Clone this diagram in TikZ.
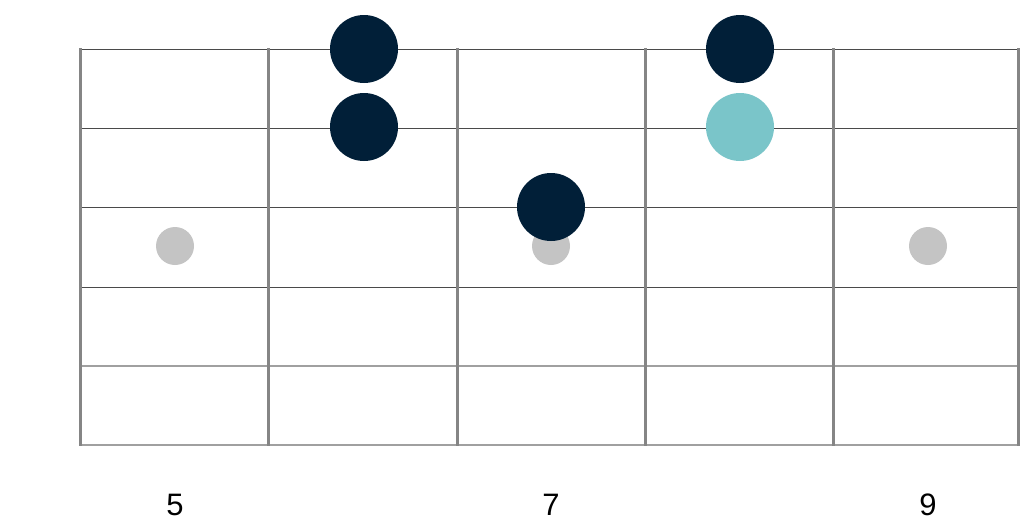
\documentclass[tikz,border=0pt]{standalone}
\usepackage{fontspec}
\setmainfont{Liberation Sans}
\usetikzlibrary{positioning}

\definecolor{navy}{HTML}{011F38}
\definecolor{teal}{HTML}{7AC5C9}
\definecolor{inlay}{HTML}{C4C4C4}
\definecolor{fretgray}{HTML}{858585}
\definecolor{stringgray}{HTML}{4A4A4A}
\definecolor{woundgray}{HTML}{A0A0A0}

\begin{document}
\begin{tikzpicture}[x=1pt, y=-1pt,
  fret/.style={draw=fretgray, line width=3pt},
  string/.style={draw=stringgray, line width=0.9pt},
  wound/.style={draw=woundgray, line width=2.4pt},
  note/.style={circle, fill=navy, minimum size=68pt, inner sep=0pt},
  root/.style={circle, fill=teal, minimum size=68pt, inner sep=0pt},
  marker/.style={circle, fill=inlay, minimum size=38pt, inner sep=0pt},
  fretnum/.style={font=\fontsize{31}{34}\selectfont, inner sep=0pt}]
\useasboundingbox (0,0) rectangle (1024,530);

% Cuerdas
\draw[string] (80,49) -- (1019,49);
\draw[string] (80,128) -- (1019,128);
\draw[string] (80,207) -- (1019,207);
\draw[string] (80,287) -- (1019,287);
\draw[wound] (80,366) -- (1019,366);
\draw[wound] (80,445) -- (1019,445);

% Trastes
\draw[fret] (80,48) -- (80,446);
\draw[fret] (268.5,48) -- (268.5,446);
\draw[fret] (457,48) -- (457,446);
\draw[fret] (645,48) -- (645,446);
\draw[fret] (833,48) -- (833,446);
\draw[fret] (1018,48) -- (1018,446);

% Marcas de posición
\node[marker] (inlay5) at (175,246) {};
\node[marker] (inlay7) at (551,246) {};
\node[marker] (inlay9) at (928,246) {};

% Notas
\node[note] (n1) at (364,49) {};
\node[note] (n2) at (364,127) {};
\node[note] (n3) at (551,207) {};
\node[note] (n4) at (740,49) {};
\node[root] (n5) at (740,127) {};

% Números de traste
\node[fretnum] (num5) at (175,504.5) {5};
\node[fretnum] (num7) at (551,504.5) {7};
\node[fretnum] (num9) at (928,504.5) {9};
\end{tikzpicture}
\end{document}
